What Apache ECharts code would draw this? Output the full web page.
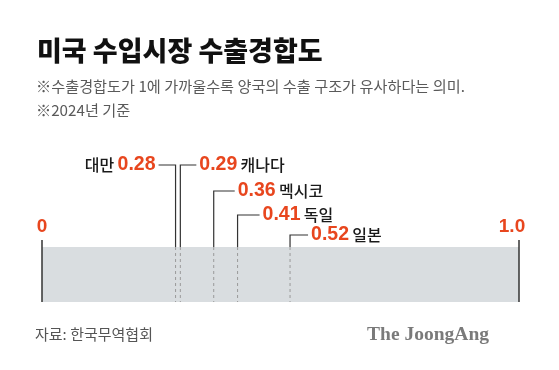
<!DOCTYPE html>
<html><head><meta charset="utf-8">
<script src="https://cdn.jsdelivr.net/npm/echarts@6/dist/echarts.min.js"></script>
<style>html,body{margin:0;padding:0;background:#fff}#c{width:559px;height:370px}</style>
</head><body><div id="c"></div>
<script>
const countries = ['대만', '캐나다', '멕시코', '독일', '일본'];
const values = [0.28, 0.29, 0.36, 0.41, 0.52];
const scaleTicks = [0, 1.0];
const scaleTickLabels = ['0', '1.0'];

// layout (pixel rows for leader labels, side of label)
const leaderRowY = [165, 165, 191, 215, 235];
const labelSide = ['left', 'right', 'right', 'right', 'right'];
const leaderLen = [17, 16, 21, 22, 18];

const RED = '#e8461e';
const KR = '"Noto Sans CJK KR", "Noto Sans", sans-serif';
const NUM = '"Liberation Sans", Arial, sans-serif';
const bandTop = 247, bandBottom = 302, axisTop = 240;

const chart = echarts.init(document.getElementById('c'), null, {renderer: 'canvas'});
chart.setOption({
  animation: false,
  grid: {left: 42, right: 40, top: 0, bottom: 0},
  xAxis: {type: 'value', min: 0, max: 1, show: false},
  yAxis: {type: 'value', min: 0, max: 370, inverse: true, show: false},
  series: [
    {
      type: 'custom',
      data: scaleTicks.map((t, i) => [t, i]),
      z: 1,
      renderItem: function (params, api) {
        const v = api.value(0), i = api.value(1);
        const children = [];
        if (i === 0) {
          const a = api.coord([scaleTicks[0], bandTop]);
          const b = api.coord([scaleTicks[scaleTicks.length - 1], bandBottom]);
          children.push({type: 'rect', shape: {x: a[0], y: a[1], width: b[0] - a[0], height: b[1] - a[1]},
            style: {fill: '#d9dde0'}});
        }
        const top = api.coord([v, axisTop]);
        const bot = api.coord([v, bandBottom]);
        children.push({type: 'line', shape: {x1: top[0], y1: top[1], x2: bot[0], y2: bot[1]},
          style: {stroke: '#333', lineWidth: 1.5}, z2: 5});
        children.push({type: 'text', style: {text: scaleTickLabels[i], x: top[0] + (i === 0 ? 0 : -7), y: 227,
          align: 'center', verticalAlign: 'middle', fill: RED, font: 'bold 19px ' + NUM}});
        return {type: 'group', children: children};
      }
    },
    {
      type: 'custom',
      data: values.map((v, i) => [v, i]),
      z: 3,
      renderItem: function (params, api) {
        const v = api.value(0), i = api.value(1);
        const rowY = leaderRowY[i];
        const pTop = api.coord([v, bandTop]);
        const pRow = api.coord([v, rowY]);
        const pBot = api.coord([v, bandBottom]);
        const dir = labelSide[i] === 'left' ? -1 : 1;
        const endX = pRow[0] + dir * leaderLen[i];
        const children = [
          {type: 'polyline', shape: {points: [[pTop[0], pTop[1]], [pRow[0], pRow[1]], [endX, pRow[1]]]},
            style: {stroke: '#333', lineWidth: 1.2, fill: null}},
          {type: 'line', shape: {x1: pTop[0], y1: pTop[1], x2: pBot[0], y2: pBot[1]},
            style: {stroke: '#9a9a9a', lineWidth: 1, lineDash: [3, 3]}},
          {type: 'text', style: {
            text: dir < 0 ? '{n|' + countries[i] + '} {v|' + values[i].toFixed(2) + '}'
                          : '{v|' + values[i].toFixed(2) + '} {n|' + countries[i] + '}',
            x: endX + dir * 3, y: pRow[1],
            align: dir < 0 ? 'right' : 'left', verticalAlign: 'middle',
            rich: {
              v: {fill: RED, fontFamily: NUM, fontWeight: 'bold', fontSize: 19.5},
              n: {fill: '#1a1a1a', fontFamily: KR, fontWeight: 500, fontSize: 16}
            }
          }}
        ];
        return {type: 'group', children: children};
      }
    }
  ],
  graphic: [
    {type: 'text', left: 37, top: 37, style: {text: '미국 수입시장 수출경합도', fill: '#111',
      font: '900 27px ' + KR}},
    {type: 'text', left: 36, top: 79, style: {text: '※수출경합도가 1에 가까울수록 양국의 수출 구조가 유사하다는 의미.', fill: '#5a5a5a',
      font: '15.2px ' + KR}},
    {type: 'text', left: 36, top: 103, style: {text: '※2024년 기준', fill: '#5a5a5a',
      font: '15.2px ' + KR}},
    {type: 'text', left: 35, top: 327, style: {text: '자료: 한국무역협회', fill: '#555',
      font: '15px ' + KR}},
    {type: 'text', right: 70, top: 325, style: {text: 'The JoongAng', fill: '#7a7a7a',
      font: 'bold 19.5px "Liberation Serif", "DejaVu Serif", serif'}}
  ]
});
</script></body></html>
